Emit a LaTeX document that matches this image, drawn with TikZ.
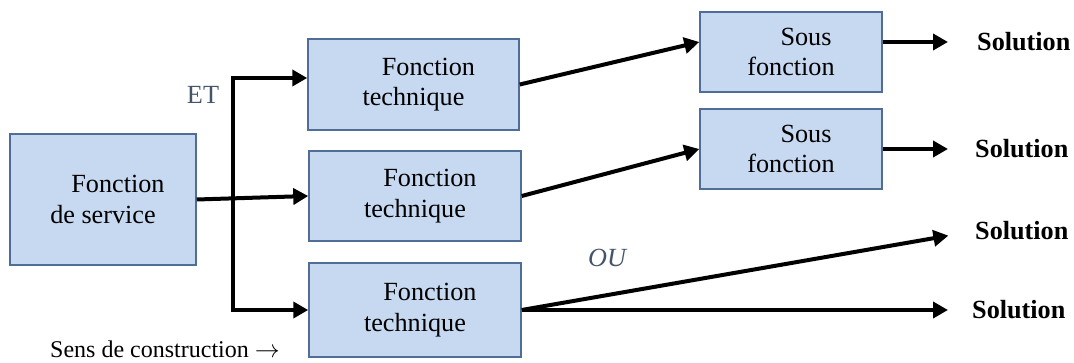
\documentclass[tikz,border=0pt]{standalone}
\usepackage{fontspec}
\setmainfont{Liberation Serif}
\usetikzlibrary{arrows.meta,calc}
\definecolor{boxfill}{RGB}{198,217,241}
\definecolor{boxline}{RGB}{79,109,150}
\definecolor{labgray}{RGB}{68,84,106}

\begin{document}
\begin{tikzpicture}[x=1pt, y=-1pt, >={Triangle[length=15pt,width=16pt]},
  fonc/.style={rectangle, draw=boxline, line width=1.5pt, fill=boxfill, align=center, inner sep=0pt, font=\fontsize{26.2}{30.5}\selectfont},
  sol/.style={anchor=west, inner sep=0pt, font=\fontsize{26.2}{30.5}\selectfont\bfseries},
  conn/.style={line width=4pt}]
\useasboundingbox (0,0) rectangle (1074,363);
% Function boxes
\node[fonc, minimum width=186pt, minimum height=131pt] (serv) at (103,199.5) {\hspace*{30pt}Fonction\\de service};
\node[fonc, minimum width=211pt, minimum height=91pt] (ft1) at (413.5,84.5) {\hspace*{30pt}Fonction\\technique};
\node[fonc, minimum width=212pt, minimum height=90pt] (ft2) at (415,196) {\hspace*{30pt}Fonction\\technique};
\node[fonc, minimum width=212pt, minimum height=94pt] (ft3) at (415,310) {\hspace*{30pt}Fonction\\technique};
\node[fonc, minimum width=182pt, minimum height=80pt] (sf1) at (791,52) {\hspace*{30pt}Sous\\fonction};
\node[fonc, minimum width=182pt, minimum height=80pt] (sf2) at (791,149) {\hspace*{30pt}Sous\\fonction};
% Solutions
\node[sol] (s1) at (977,42) {Solution};
\node[sol] (s2) at (975,149) {Solution};
\node[sol] (s3) at (975,231) {Solution};
\node[sol] (s4) at (972,310) {Solution};
% Labels
\node[text=labgray, font=\fontsize{26.2}{30}\selectfont] (et) at (203,95) {ET};
\node[text=labgray, font=\fontsize{26.2}{30}\selectfont\itshape] (ou) at (607,258) {OU};
\node[anchor=base west, inner sep=0pt, font=\fontsize{24}{28}\selectfont] (sens) at (50,358) {Sens de construction $\rightarrow$};
% ET junction
\coordinate (jt) at (233,78);
\coordinate (jb) at (233,310);
\draw[conn,<->] (jt -| ft1.west) -- (jt) -- (jb) -- (ft3.west);
\draw[conn,->] (serv.east) -- (ft2.west);
% Technical functions to sub functions
\draw[conn,->] (ft1.east) -- ([yshift=10pt]sf1.west);
\draw[conn,->] (ft2.east) -- (sf2.west);
% To solutions
\draw[conn,->,shorten >=29pt] (sf1.east |- s1.west) -- (s1.west);
\draw[conn,->,shorten >=27pt] (sf2.east |- s2.west) -- (s2.west);
\draw[conn,->,shorten >=27pt] (ft3.east) -- (s3.west);
\draw[conn,->,shorten >=24pt] (ft3.east) -- (ft3.east -| s4.west);
\end{tikzpicture}
\end{document}
